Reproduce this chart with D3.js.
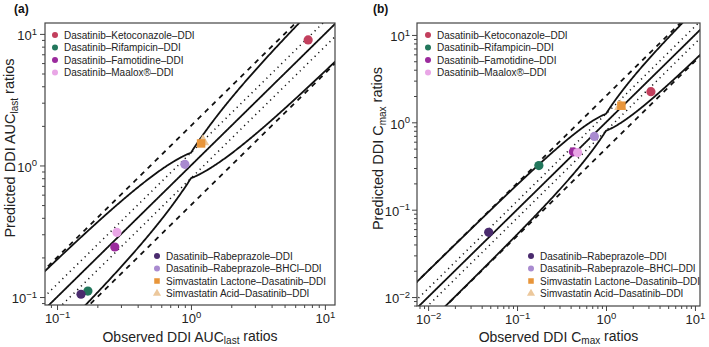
<!DOCTYPE html>
<html>
<head>
<meta charset="utf-8">
<script src="https://cdn.jsdelivr.net/npm/d3@7"></script>
<style>
  body { margin: 0; background: #fff; }
  svg { font-family: "Liberation Sans", Arial, sans-serif; }
  .tick line { stroke: #444; }
</style>
</head>
<body>
<svg id="chart" width="709" height="347"></svg>
<script>
  // legend entries, same order in both panels
  var ddiNames = ["Dasatinib\u2013Ketoconazole\u2013DDI", "Dasatinib\u2013Rifampicin\u2013DDI",
                  "Dasatinib\u2013Famotidine\u2013DDI", "Dasatinib\u2013Maalox\u00AE\u2013DDI",
                  "Dasatinib\u2013Rabeprazole\u2013DDI", "Dasatinib\u2013Rabeprazole\u2013BHCl\u2013DDI",
                  "Simvastatin Lactone\u2013Dasatinib\u2013DDI", "Simvastatin Acid\u2013Dasatinib\u2013DDI"];
  var ddiColors = ["#c23f5d", "#22775c", "#9b2a9d", "#e9a6e6", "#4a2b6e", "#a98bd0", "#e8953a", "#ecc89c"];
  var ddiShapes = ["circle", "circle", "circle", "circle", "circle", "circle", "square", "triangle"];

  // panel (a): AUClast ratios
  var aucObserved  = [7.5, 0.17, 0.27, 0.28, 0.151, 0.90, 1.19, 1.23];
  var aucPredicted = [9.0, 0.111, 0.24, 0.31, 0.105, 1.02, 1.47, 1.52];
  // panel (b): Cmax ratios
  var cmaxObserved  = [3.2, 0.176, 0.43, 0.48, 0.048, 0.74, 1.49, 1.45];
  var cmaxPredicted = [2.24, 0.32, 0.46, 0.45, 0.055, 0.69, 1.55, 1.52];

  var aucTicks = [-1, 0, 1];
  var cmaxTicks = [-2, -1, 0, 1];

  // reference lines: 2-fold (dashed), 1.25-fold (dotted), Guest limits with delta
  var foldDashed = 2, foldDotted = 1.25, guestDelta = 1.25;

  var svg = d3.select("#chart");

  function guestLimit(obs) {
    var r = obs >= 1 ? obs : 1 / obs;
    return (guestDelta + 2 * (r - 1)) / r;
  }

  function drawPanel(opt) {
    var g = svg.append("g").attr("transform", "translate(" + opt.left + "," + opt.top + ")");
    var w = opt.width, h = opt.height;

    var x = d3.scaleLog().domain(opt.xDomain).range([0, w]);
    var y = d3.scaleLog().domain(opt.yDomain).range([h, 0]);

    var clipId = "clip" + opt.id;
    g.append("clipPath").attr("id", clipId)
      .append("rect").attr("width", w).attr("height", h);

    // minor ticks
    var minor = [];
    opt.ticks.forEach(function(k) {
      for (var m = 2; m <= 9; m++) minor.push(m * Math.pow(10, k - 1));
    });
    for (var m = 2; m <= 9; m++) minor.push(m * Math.pow(10, opt.ticks[opt.ticks.length - 1]));
    var xMinor = minor.filter(function(v) { return v >= opt.xDomain[0] && v <= opt.xDomain[1]; });
    var yMinor = minor.filter(function(v) { return v >= opt.yDomain[0] && v <= opt.yDomain[1]; });
    var majors = opt.ticks.map(function(k) { return Math.pow(10, k); });

    g.append("g").attr("transform", "translate(0," + h + ")")
      .call(d3.axisBottom(x).tickValues(xMinor).tickSize(3).tickFormat(""))
      .call(function(a) { a.select(".domain").remove(); });
    g.append("g")
      .call(d3.axisLeft(y).tickValues(yMinor).tickSize(3).tickFormat(""))
      .call(function(a) { a.select(".domain").remove(); });

    var xAx = g.append("g").attr("transform", "translate(0," + h + ")")
      .call(d3.axisBottom(x).tickValues(majors).tickSize(5).tickPadding(4).tickFormat(""));
    var yAx = g.append("g")
      .call(d3.axisLeft(y).tickValues(majors).tickSize(5).tickPadding(opt.yPad).tickFormat(""));
    [xAx, yAx].forEach(function(a) {
      a.select(".domain").remove();
      a.selectAll(".tick text").each(function(d) {
        var t = d3.select(this).attr("font-size", 13).attr("fill", "#222")
          .attr("font-family", "Liberation Sans, Arial, sans-serif");
        var e = Math.round(Math.log10(d));
        t.append("tspan").text("10");
        t.append("tspan").attr("font-size", 9.5).attr("dy", "-0.6em")
          .text(e < 0 ? "\u2212" + (-e) : e);
      });
    });
    yAx.selectAll(".tick text").attr("dy", "0.45em");

    // reference lines
    var expo = d3.range(-2.4, 1.4001, 0.005).map(function(e) { return Math.pow(10, e); });
    expo.push(1);
    expo.sort(d3.ascending);
    var line = d3.line()
      .x(function(d) { return x(d[0]); })
      .y(function(d) { return y(d[1]); });
    var lines = g.append("g").attr("clip-path", "url(#" + clipId + ")").attr("fill", "none");

    function refLine(fn, dash, width) {
      lines.append("path")
        .attr("d", line(expo.map(function(v) { return [v, fn(v)]; })))
        .attr("stroke", "#111")
        .attr("stroke-width", width)
        .attr("stroke-dasharray", dash);
    }
    refLine(function(v) { return v * foldDashed; }, "5,5", 1.8);
    refLine(function(v) { return v / foldDashed; }, "5,5", 1.8);
    refLine(function(v) { return v * foldDotted; }, "1.2,4", 1.5);
    refLine(function(v) { return v / foldDotted; }, "1.2,4", 1.5);
    refLine(function(v) { return v; }, null, 1.8);
    refLine(function(v) { return v * guestLimit(v); }, null, 1.8);
    refLine(function(v) { return v / guestLimit(v); }, null, 1.8);

    // data points
    var pts = opt.observed.map(function(o, i) {
      return { x: o, y: opt.predicted[i], color: ddiColors[i], shape: ddiShapes[i] };
    });
    var order = [0, 1, 2, 3, 4, 5, 7, 6];
    var marks = g.append("g");
    order.forEach(function(i) { drawMark(marks, pts[i].shape, x(pts[i].x), y(pts[i].y), 4.6, pts[i].color); });

    // frame
    g.append("rect").attr("width", w).attr("height", h)
      .attr("fill", "none").attr("stroke", "#444").attr("stroke-width", 1.2);

    // legends
    function legend(lx, ly, idx) {
      var lg = g.append("g").attr("transform", "translate(" + lx + "," + ly + ")");
      idx.forEach(function(i, j) {
        drawMark(lg, ddiShapes[i], 0, j * 12.5, 3, ddiColors[i]);
        lg.append("text").attr("x", 9).attr("y", j * 12.5).attr("dy", "0.35em")
          .attr("font-size", 10).attr("fill", "#222").text(ddiNames[i]);
      });
    }
    legend(opt.legendTop[0], opt.legendTop[1], [0, 1, 2, 3]);
    legend(opt.legendBottom[0], opt.legendBottom[1], [4, 5, 6, 7]);

    // axis titles
    var xt = g.append("text").attr("x", w / 2).attr("y", 341.5 - opt.top)
      .attr("text-anchor", "middle").attr("font-size", 14).attr("fill", "#222");
    xt.append("tspan").text("Observed DDI " + opt.metric);
    xt.append("tspan").attr("font-size", 10).attr("dy", "0.2em").text(opt.sub);
    xt.append("tspan").attr("dy", "-0.2em").text(" ratios");

    var yt = g.append("text").attr("transform", "translate(" + opt.yTitleX + "," + (h / 2 - 16) + ") rotate(-90)")
      .attr("text-anchor", "middle").attr("font-size", 14.5).attr("fill", "#222");
    yt.append("tspan").text("Predicted DDI " + opt.metric);
    yt.append("tspan").attr("font-size", 10).attr("dy", "0.3em").text(opt.sub);
    yt.append("tspan").attr("dy", "-0.3em").text(" ratios");

    svg.append("text").attr("x", opt.labelX).attr("y", 13)
      .attr("font-size", 12).attr("font-weight", "bold").attr("fill", "#111").text(opt.label);
  }

  function drawMark(sel, shape, cx, cy, r, color) {
    if (shape === "circle") {
      sel.append("circle").attr("cx", cx).attr("cy", cy).attr("r", r).attr("fill", color);
    } else {
      var sym = shape === "square" ? d3.symbolSquare : d3.symbolTriangle;
      var size = shape === "square" ? (2 * r) * (2 * r) * 0.85 : r * r * 3.2;
      sel.append("path").attr("d", d3.symbol().type(sym).size(size)())
        .attr("transform", "translate(" + cx + "," + cy + ")").attr("fill", color);
    }
  }

  drawPanel({
    id: "a", label: "(a)", labelX: 14,
    left: 45, top: 23, width: 290, height: 282,
    xDomain: [0.0813, 11.9], yDomain: [0.087, 12.1],
    ticks: aucTicks, observed: aucObserved, predicted: aucPredicted,
    metric: "AUC", sub: "last", yTitleX: -30, yPad: 3,
    legendTop: [10, 12], legendBottom: [112, 233]
  });

  drawPanel({
    id: "b", label: "(b)", labelX: 373,
    left: 417, top: 23, width: 283, height: 283,
    xDomain: [0.0075, 11.4], yDomain: [0.0079, 13.7],
    ticks: cmaxTicks, observed: cmaxObserved, predicted: cmaxPredicted,
    metric: "C", sub: "max", yTitleX: -34, yPad: 2,
    legendTop: [11, 12], legendBottom: [114, 233]
  });
</script>
</body>
</html>
